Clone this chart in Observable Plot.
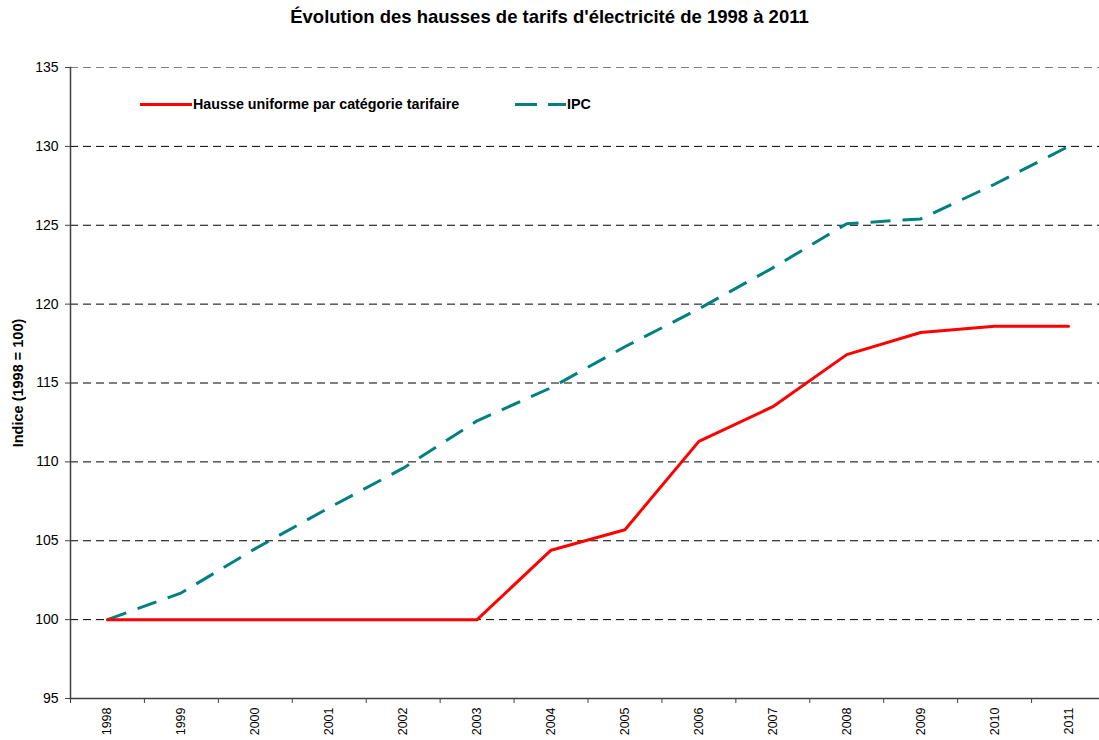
<!DOCTYPE html>
<html><head><meta charset="utf-8">
<script src="https://cdn.jsdelivr.net/npm/d3@7"></script>
<script src="https://cdn.jsdelivr.net/npm/@observablehq/plot@0.6"></script>
<style>
body{margin:0;background:#fff;font-family:"Liberation Sans",Arial,sans-serif;}
#wrap{position:relative;width:1099px;height:740px;overflow:hidden;}
#title{position:absolute;left:0;top:6px;width:1099px;text-align:center;font-weight:bold;font-size:18.5px;color:#000;}
#chart{position:absolute;left:0;top:40px;}
.lg{position:absolute;}
.lgtext{position:absolute;font-weight:bold;font-size:14.3px;color:#000;white-space:nowrap;}
</style>
</head><body>
<div id="wrap">
  <div id="title">Évolution des hausses de tarifs d'électricité de 1998 à 2011</div>
  <div id="chart"></div>
  <div class="lg" style="left:140px;top:103px;width:52px;height:3px;background:#ff0000;"></div>
  <div class="lgtext" style="left:193px;top:96px;">Hausse uniforme par catégorie tarifaire</div>
  <div class="lg" style="left:515px;top:103px;width:22px;height:3px;background:#008080;"></div>
  <div class="lg" style="left:548px;top:103px;width:18px;height:3px;background:#008080;"></div>
  <div class="lgtext" style="left:567px;top:96px;">IPC</div>
</div>
<script>
const years = ["1998","1999","2000","2001","2002","2003","2004","2005","2006","2007","2008","2009","2010","2011"];
const hausse = [100,100,100,100,100,100,104.4,105.7,111.3,113.5,116.8,118.2,118.6,118.6];
const ipc = [100,101.7,104.5,107.1,109.6,112.6,114.7,117.3,119.7,122.3,125.1,125.4,127.6,130.0];
const yTicks = [95,100,105,110,115,120,125,130,135];
const yLabel = "Indice (1998 = 100)";

const hausseData = years.map((y,i)=>({year:y, value:hausse[i]}));
const ipcData = years.map((y,i)=>({year:y, value:ipc[i]}));

const W = 1099, ML = 70, MR = -6;
const step = (W - ML - MR) / years.length;

const chart = Plot.plot({
  width: W,
  height: 700,
  marginLeft: ML,
  marginRight: MR,
  marginTop: 27,
  marginBottom: 42,
  style: {fontFamily: '"Liberation Sans", Arial, sans-serif', fontSize: "14px", color: "#000", background: "#fff", overflow: "visible"},
  x: {type: "point", domain: years, padding: 0.5, round: false},
  y: {domain: [95, 135]},
  marks: [
    Plot.ruleY(yTicks.filter(t => t > 95 && t < 135), {y: d => d, stroke: "#000", strokeWidth: 1, strokeDasharray: "8,5"}),
    Plot.ruleY(yTicks.filter(t => t === 135), {y: d => d, stroke: "#808080", strokeWidth: 1, strokeDasharray: "8,5"}),
    Plot.axisY({ticks: yTicks, tickSize: 5, tickPadding: 7, label: null, stroke: "#404040", fontSize: 14}),
    Plot.axisX({ticks: years, tickSize: 0, tickRotate: -90, tickPadding: 9, label: null, fontSize: 12.5}),
    Plot.axisX({ticks: years, tickSize: 5, tickFormat: () => "", label: null, dx: -step/2, stroke: "#404040"}),
    Plot.frame({anchor: "left", stroke: "#404040", strokeWidth: 1.5}),
    Plot.frame({anchor: "bottom", stroke: "#404040", strokeWidth: 1.5}),
    Plot.text([yLabel], {frameAnchor: "left", textAnchor: "middle", dx: -52, rotate: -90, text: d => d, fontWeight: "bold", fontSize: 14.5, fill: "#000"}),
    Plot.line(ipcData, {x: "year", y: "value", stroke: "#008080", strokeWidth: 3, strokeDasharray: "20,12", strokeLinecap: "butt"}),
    Plot.line(hausseData, {x: "year", y: "value", stroke: "#ff0000", strokeWidth: 3})
  ]
});
document.getElementById("chart").appendChild(chart);
</script>
</body></html>
